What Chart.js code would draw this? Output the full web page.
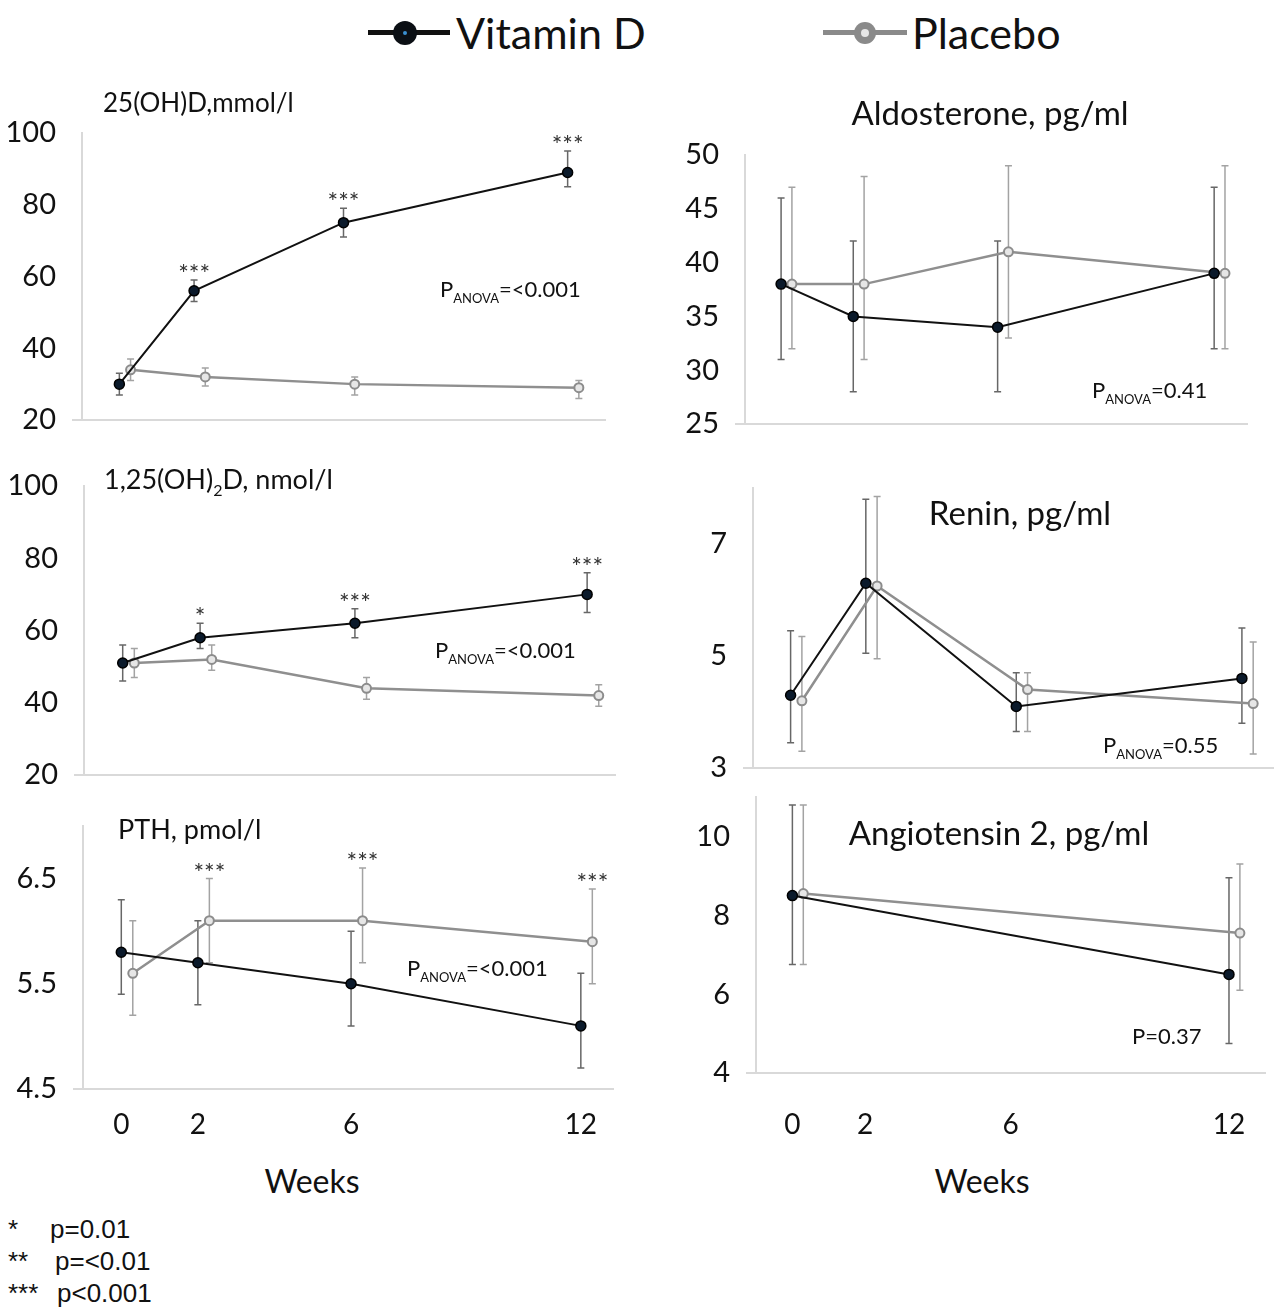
<!doctype html>
<html lang="en">
<head>
<meta charset="utf-8">
<title>Vitamin D vs placebo</title>
<style>
  html,body{margin:0;padding:0;background:#fff;}
  body{width:1280px;height:1307px;position:relative;overflow:hidden;font-family:Lato,"Open Sans",sans-serif;color:#111;}
  canvas{position:absolute;}
  .txt{position:absolute;white-space:nowrap;line-height:1;}
  .box{position:absolute;}
  .foot{font-family:"Liberation Sans",Arial,sans-serif;font-size:26px;}
</style>
</head>
<body>

<!-- legend -->
<div class="box" style="left:368px;top:30px;width:82px;height:5px;background:#111"></div>
<div class="box" style="left:393px;top:21px;width:24px;height:24px;border-radius:50%;background:#0b0f14"></div>
<div class="box" style="left:403px;top:31px;width:4px;height:4px;border-radius:50%;background:#3a8fd0"></div>
<div class="txt" style="left:456px;top:11px;font-size:43px">Vitamin D</div>

<div class="box" style="left:823px;top:30px;width:84px;height:5px;background:#8a8a8a"></div>
<div class="box" style="left:854px;top:22px;width:22px;height:22px;border-radius:50%;background:#8a8a8a"></div>
<div class="box" style="left:861px;top:29px;width:8px;height:8px;border-radius:50%;background:#e6e6e6"></div>
<div class="txt" style="left:912px;top:11px;font-size:43px">Placebo</div>

<canvas id="c1" width="640" height="395" style="left:0;top:70px"></canvas>
<canvas id="c2" width="640" height="390" style="left:0;top:430px"></canvas>
<canvas id="c3" width="640" height="370" style="left:0;top:780px"></canvas>
<canvas id="c4" width="620" height="400" style="left:660px;top:70px"></canvas>
<canvas id="c5" width="620" height="375" style="left:660px;top:440px"></canvas>
<canvas id="c6" width="620" height="400" style="left:660px;top:750px"></canvas>

<div class="txt" style="left:312px;top:1165px;font-size:32px;transform:translateX(-50%)">Weeks</div>
<div class="txt" style="left:982px;top:1165px;font-size:32px;transform:translateX(-50%)">Weeks</div>

<div class="txt foot" style="left:8px;top:1216px">*</div>
<div class="txt foot" style="left:50px;top:1216px">p=0.01</div>
<div class="txt foot" style="left:8px;top:1248px">**</div>
<div class="txt foot" style="left:55px;top:1248px">p=&lt;0.01</div>
<div class="txt foot" style="left:8px;top:1280px">***</div>
<div class="txt foot" style="left:57px;top:1280px">p&lt;0.001</div>

<script src="https://cdn.jsdelivr.net/npm/chart.js@4.4.1/dist/chart.umd.min.js"></script>
<script>
// study weeks
const weeks = [0, 2, 6, 12];
const angWeeks = [0, 12];

// 25(OH)D
const ohdVit = [30, 56, 75, 89];
const ohdVitLo = [27, 53, 71, 85];
const ohdVitHi = [33, 59, 79, 95];
const ohdPla = [34, 32, 30, 29];
const ohdPlaLo = [31, 29.5, 27, 26];
const ohdPlaHi = [37, 34.5, 32, 31];
const ohdStars = ['', '***', '***', '***'];
const ohdTicks = [20, 40, 60, 80, 100];

// 1,25(OH)2D
const dhdVit = [51, 58, 62, 70];
const dhdVitLo = [46, 55, 58, 65];
const dhdVitHi = [56, 62, 66, 76];
const dhdPla = [51, 52, 44, 42];
const dhdPlaLo = [47, 49, 41, 39];
const dhdPlaHi = [55, 56, 47, 45];
const dhdStars = ['', '*', '***', '***'];
const dhdTicks = [20, 40, 60, 80, 100];

// PTH
const pthVit = [5.8, 5.7, 5.5, 5.1];
const pthVitLo = [5.4, 5.3, 5.1, 4.7];
const pthVitHi = [6.3, 6.1, 6.0, 5.6];
const pthPla = [5.6, 6.1, 6.1, 5.9];
const pthPlaLo = [5.2, 5.7, 5.7, 5.5];
const pthPlaHi = [6.1, 6.5, 6.6, 6.4];
const pthStars = ['', '***', '***', '***'];
const pthTicks = [4.5, 5.5, 6.5];

// Aldosterone
const aldVit = [38, 35, 34, 39];
const aldVitLo = [31, 28, 28, 32];
const aldVitHi = [46, 42, 42, 47];
const aldPla = [38, 38, 41, 39];
const aldPlaLo = [32, 31, 33, 32];
const aldPlaHi = [47, 48, 49, 49];
const aldTicks = [25, 30, 35, 40, 45, 50];

// Renin
const renVit = [4.3, 6.3, 4.1, 4.6];
const renVitLo = [3.45, 5.05, 3.65, 3.8];
const renVitHi = [5.45, 7.8, 4.7, 5.5];
const renPla = [4.2, 6.25, 4.4, 4.15];
const renPlaLo = [3.3, 4.95, 3.65, 3.25];
const renPlaHi = [5.35, 7.85, 4.7, 5.25];
const renTicks = [3, 5, 7];

// Angiotensin 2
const angVit = [8.5, 6.5];
const angVitLo = [6.75, 4.75];
const angVitHi = [10.8, 8.95];
const angPla = [8.55, 7.55];
const angPlaLo = [6.75, 6.1];
const angPlaHi = [10.8, 9.3];
const angTicks = [4, 6, 8, 10];

const DODGE = 0.3; // placebo points drawn a little to the right
const FONT = 'Lato, "Open Sans", sans-serif';

const panels = [
  {id:'c1', left:0, top:70, x:weeks, vit:[ohdVit, ohdVitLo, ohdVitHi], pla:[ohdPla, ohdPlaLo, ohdPlaHi],
   stars:ohdStars, starOn:0, yMin:20, yMax:100, yTicks:ohdTicks, xMax:13, yw:82, xh:0,
   pad:{left:0, right:35, top:63, bottom:45},
   title:{parts:[['25(OH)D,mmol/l', 26]], x:103, y:112, align:'left'},
   pval:{parts:[['P', 22], ['ANOVA', 13, 6], ['=<0.001', 22]], x:440, y:297}},
  {id:'c2', left:0, top:430, x:weeks, vit:[dhdVit, dhdVitLo, dhdVitHi], pla:[dhdPla, dhdPlaLo, dhdPlaHi],
   stars:dhdStars, starOn:0, yMin:20, yMax:100, yTicks:dhdTicks, xMax:12.72, yw:84, xh:0,
   pad:{left:0, right:25, top:56, bottom:45},
   title:{parts:[['1,25(OH)', 27], ['2', 16, 7], ['D, nmol/l', 27]], x:104, y:489, align:'left'},
   pval:{parts:[['P', 22], ['ANOVA', 13, 6], ['=<0.001', 22]], x:435, y:658}},
  {id:'c3', left:0, top:780, x:weeks, vit:[pthVit, pthVitLo, pthVitHi], pla:[pthPla, pthPlaLo, pthPlaHi],
   stars:pthStars, starOn:1, yMin:4.5, yMax:7, yTicks:pthTicks, xMax:12.84, yw:83, xh:61, xPad:11, xLabels:true,
   pad:{left:0, right:27, top:46, bottom:0},
   title:{parts:[['PTH, pmol/l', 27]], x:118, y:839, align:'left'},
   pval:{parts:[['P', 22], ['ANOVA', 13, 6], ['=<0.001', 22]], x:407, y:976}},
  {id:'c4', left:660, top:70, x:weeks, vit:[aldVit, aldVitLo, aldVitHi], pla:[aldPla, aldPlaLo, aldPlaHi],
   yMin:25, yMax:50, yTicks:aldTicks, xMax:12.91, yw:85, xh:0,
   pad:{left:0, right:33, top:85, bottom:46},
   title:{parts:[['Aldosterone, pg/ml', 33]], x:990, y:125, align:'center'},
   pval:{parts:[['P', 22], ['ANOVA', 13, 6], ['=0.41', 22]], x:1092, y:398}},
  {id:'c5', left:660, top:440, x:weeks, vit:[renVit, renVitLo, renVitHi], pla:[renPla, renPlaLo, renPlaHi],
   yMin:3, yMax:8, yTicks:renTicks, xMax:12.84, yw:93, xh:0,
   pad:{left:0, right:0, top:48, bottom:47},
   title:{parts:[['Renin, pg/ml', 33]], x:1020, y:525, align:'center'},
   pval:{parts:[['P', 22], ['ANOVA', 13, 6], ['=0.55', 22]], x:1103, y:753}},
  {id:'c6', left:660, top:750, x:angWeeks, vit:[angVit, angVitLo, angVitHi], pla:[angPla, angPlaLo, angPlaHi],
   yMin:4, yMax:11, yTicks:angTicks, xMax:12.99, yw:96, xh:77, xPad:27, xLabels:true,
   pad:{left:0, right:15, top:47, bottom:0},
   title:{parts:[['Angiotensin 2, pg/ml', 33]], x:999, y:845, align:'center'},
   pval:{parts:[['P=0.37', 22]], x:1132, y:1044}}
];

function drawParts(ctx, parts, x, y, align) {
  let total = 0;
  parts.forEach(p => { ctx.font = p[1] + 'px ' + FONT; total += ctx.measureText(p[0]).width; });
  let cx = align === 'center' ? x - total / 2 : x;
  ctx.textAlign = 'left';
  ctx.textBaseline = 'alphabetic';
  ctx.fillStyle = '#111';
  parts.forEach(p => {
    ctx.font = p[1] + 'px ' + FONT;
    ctx.fillText(p[0], cx, y + (p[2] || 0));
    cx += ctx.measureText(p[0]).width;
  });
}

function makeExtras(p) {
  return {
    id: 'extras',
    beforeDatasetsDraw(chart) {
      const ctx = chart.ctx, ys = chart.scales.y;
      [[p.vit, '#676767'], [p.pla, '#a3a3a3']].forEach((s, d) => {
        const meta = chart.getDatasetMeta(d);
        ctx.save();
        ctx.strokeStyle = s[1];
        ctx.lineWidth = 1.5;
        meta.data.forEach((pt, i) => {
          const lo = ys.getPixelForValue(s[0][1][i]);
          const hi = ys.getPixelForValue(s[0][2][i]);
          ctx.beginPath();
          ctx.moveTo(pt.x, lo); ctx.lineTo(pt.x, hi);
          ctx.moveTo(pt.x - 3.5, lo); ctx.lineTo(pt.x + 3.5, lo);
          ctx.moveTo(pt.x - 3.5, hi); ctx.lineTo(pt.x + 3.5, hi);
          ctx.stroke();
        });
        ctx.restore();
      });
    },
    afterDatasetsDraw(chart) {
      const ctx = chart.ctx, ys = chart.scales.y;
      ctx.save();
      if (p.stars) {
        const src = p.starOn === 0 ? p.vit : p.pla;
        const meta = chart.getDatasetMeta(p.starOn);
        ctx.font = '25px ' + FONT;
        ctx.fillStyle = '#333';
        ctx.textAlign = 'center';
        ctx.textBaseline = 'alphabetic';
        p.stars.forEach((s, i) => {
          if (!s) return;
          ctx.fillText(s, meta.data[i].x, ys.getPixelForValue(src[2][i]) + 3);
        });
      }
      drawParts(ctx, p.title.parts, p.title.x - p.left, p.title.y - p.top, p.title.align);
      drawParts(ctx, p.pval.parts, p.pval.x - p.left, p.pval.y - p.top, 'left');
      ctx.restore();
    }
  };
}

panels.forEach(p => {
  const ctx = document.getElementById(p.id).getContext('2d');
  new Chart(ctx, {
    type: 'line',
    data: {
      datasets: [{
        label: 'Vitamin D',
        data: p.x.map((w, i) => ({x: w, y: p.vit[0][i]})),
        borderColor: '#111',
        borderWidth: 2,
        pointRadius: 5,
        pointBackgroundColor: '#0b1a2b',
        pointBorderColor: '#000',
        pointBorderWidth: 1.5,
        tension: 0
      }, {
        label: 'Placebo',
        data: p.x.map((w, i) => ({x: w + DODGE, y: p.pla[0][i]})),
        borderColor: '#8f8f8f',
        borderWidth: 2.5,
        pointRadius: 4.5,
        pointBackgroundColor: '#e6e6e6',
        pointBorderColor: '#8c8c8c',
        pointBorderWidth: 2,
        tension: 0
      }]
    },
    options: {
      responsive: false,
      animation: false,
      layout: {padding: p.pad},
      plugins: {legend: {display: false}, tooltip: {enabled: false}, title: {display: false}},
      scales: {
        x: {
          type: 'linear', min: -1, max: p.xMax,
          grid: {display: false},
          border: {display: true, color: '#d9d9d9', width: 2},
          ticks: {display: !!p.xLabels, padding: p.xPad || 0, color: '#111', font: {family: FONT, size: 28},
                  maxRotation: 0, autoSkip: false, callback: v => String(v)},
          afterBuildTicks: s => { s.ticks = weeks.map(v => ({value: v})); },
          afterFit: s => { s.height = p.xh; }
        },
        y: {
          min: p.yMin, max: p.yMax,
          grid: {display: true, drawOnChartArea: false, drawTicks: true, tickLength: 10, lineWidth: 2,
                 color: c => (c.tick && c.tick.value === p.yMin) ? '#d9d9d9' : 'rgba(0,0,0,0)'},
          border: {display: true, color: '#d9d9d9', width: 2},
          ticks: {padding: 16, color: '#111', font: {family: FONT, size: 29}, callback: v => String(v)},
          afterBuildTicks: s => { s.ticks = p.yTicks.map(v => ({value: v})); },
          afterFit: s => { s.width = p.yw; }
        }
      }
    },
    plugins: [makeExtras(p)]
  });
});
</script>
</body>
</html>
